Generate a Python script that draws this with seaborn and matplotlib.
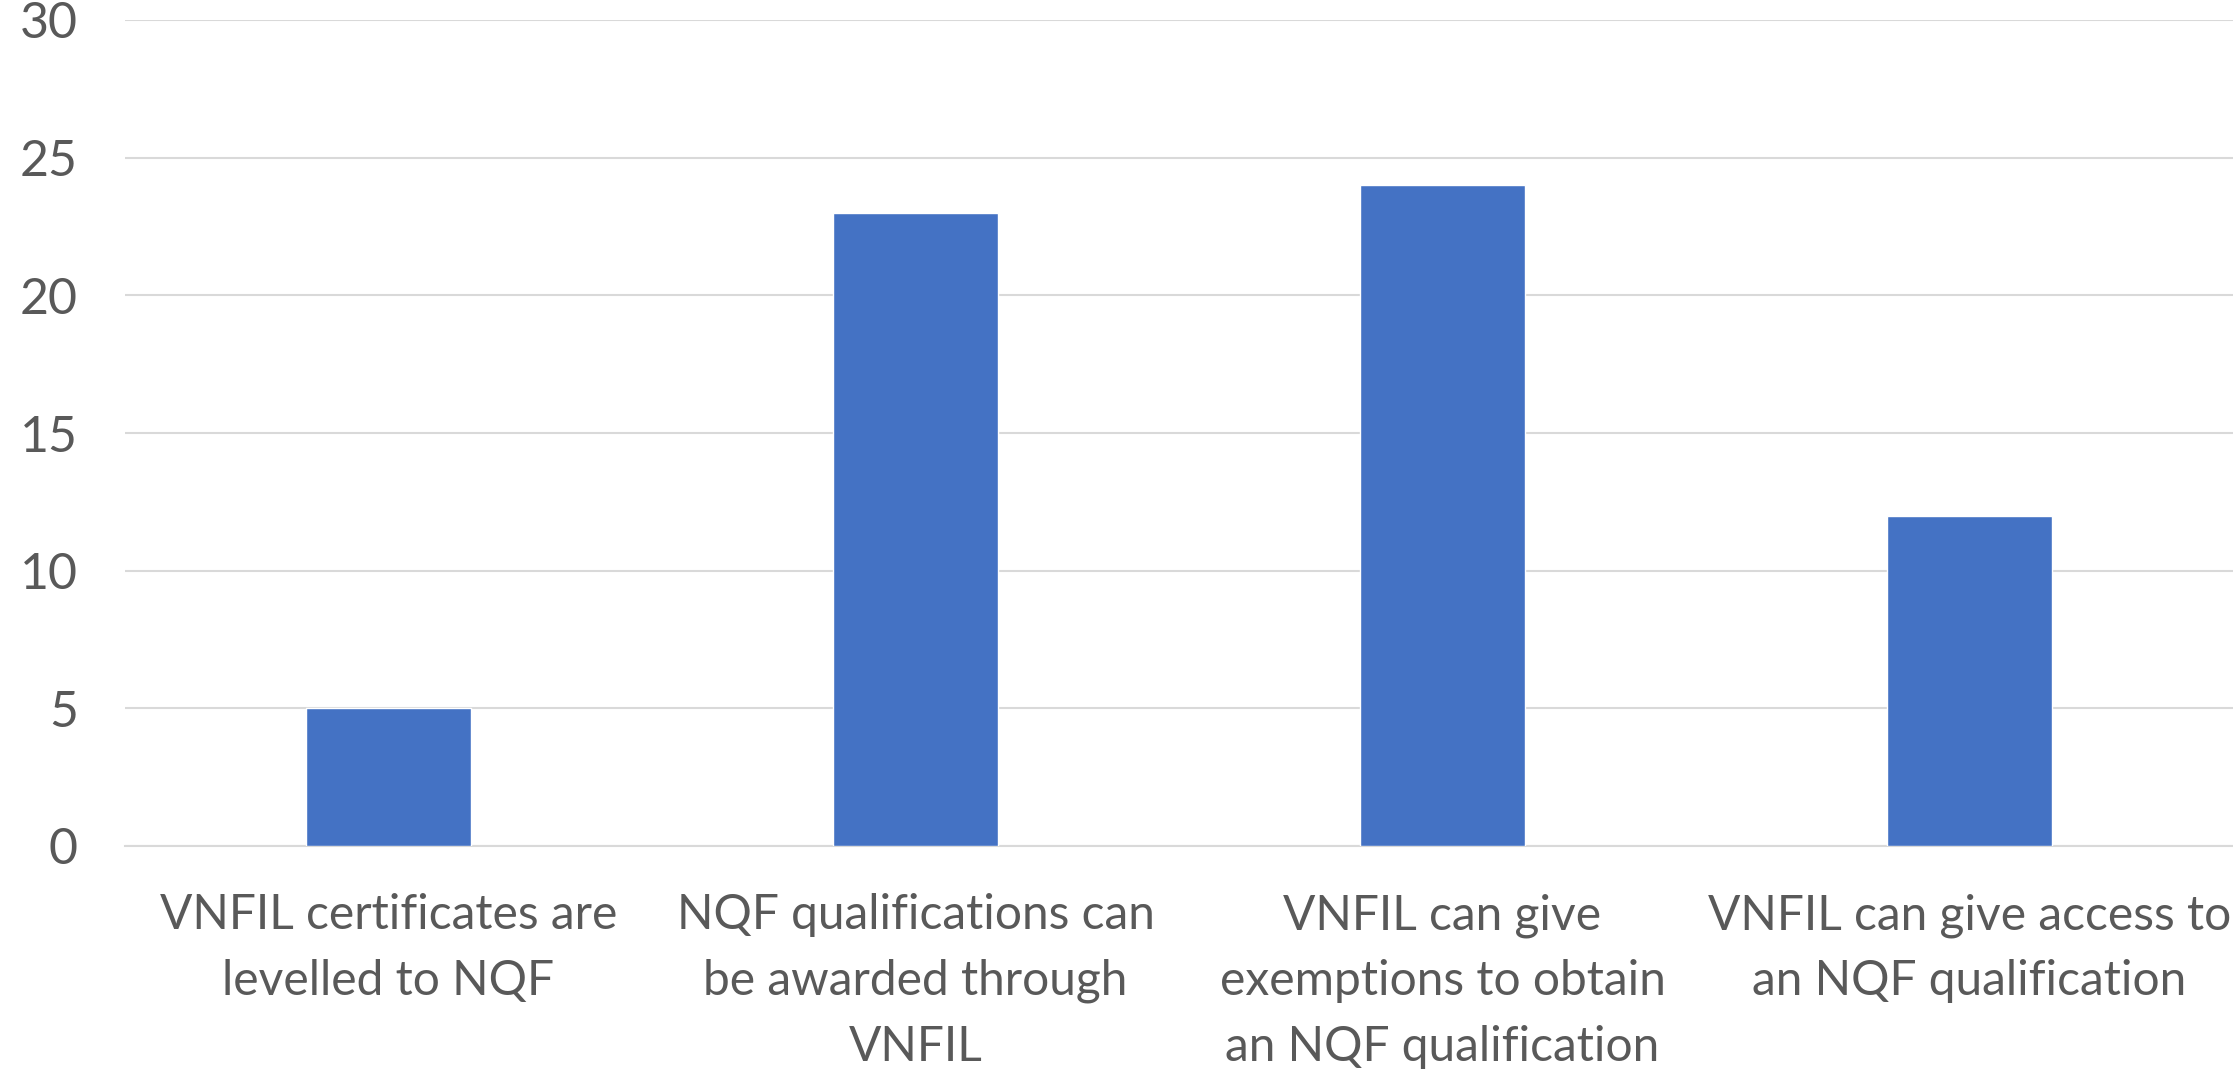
import matplotlib
matplotlib.use("Agg")
import matplotlib.pyplot as plt
import seaborn as sns
import pandas as pd

categories = [
    "VNFIL certificates are\nlevelled to NQF",
    "NQF qualifications can\nbe awarded through\nVNFIL",
    "VNFIL can give\nexemptions to obtain\nan NQF qualification",
    "VNFIL can give access to\nan NQF qualification",
]
values = [5, 23, 24, 12]
yticks = [0, 5, 10, 15, 20, 25, 30]

sns.set_theme(style="white")
plt.rcParams['font.family'] = ['Lato', 'DejaVu Sans']

df = pd.DataFrame({"cat": categories, "val": values})

W, H = 2233, 1069
fig = plt.figure(figsize=(W / 100, H / 100), dpi=100)
ax = fig.add_axes([125 / W, 1 - 846 / H, (W - 125) / W, (846 - 20) / H])

sns.barplot(data=df, x="cat", y="val", color="#4472C4", width=0.313,
            saturation=1, ax=ax, zorder=3)

ax.set_ylim(0, 30)
ax.set_xlim(-0.5, 3.5)
ax.set_yticks(yticks)
ax.yaxis.grid(True, color="#D9D9D9", linewidth=1.5, zorder=0)
ax.set_axisbelow(True)
for s in ["top", "right", "left"]:
    ax.spines[s].set_visible(False)
ax.spines["bottom"].set_color("#D9D9D9")
ax.spines["bottom"].set_linewidth(1.5)
ax.tick_params(axis="x", length=0, labelsize=34.5, colors="#595959", pad=34)
ax.tick_params(axis="y", length=0, labelsize=36, colors="#595959", pad=34)
for lab in ax.get_xticklabels():
    lab.set_linespacing(1.6)
ax.set_xlabel("")
ax.set_ylabel("")

fig.savefig("out.png", dpi=100)
